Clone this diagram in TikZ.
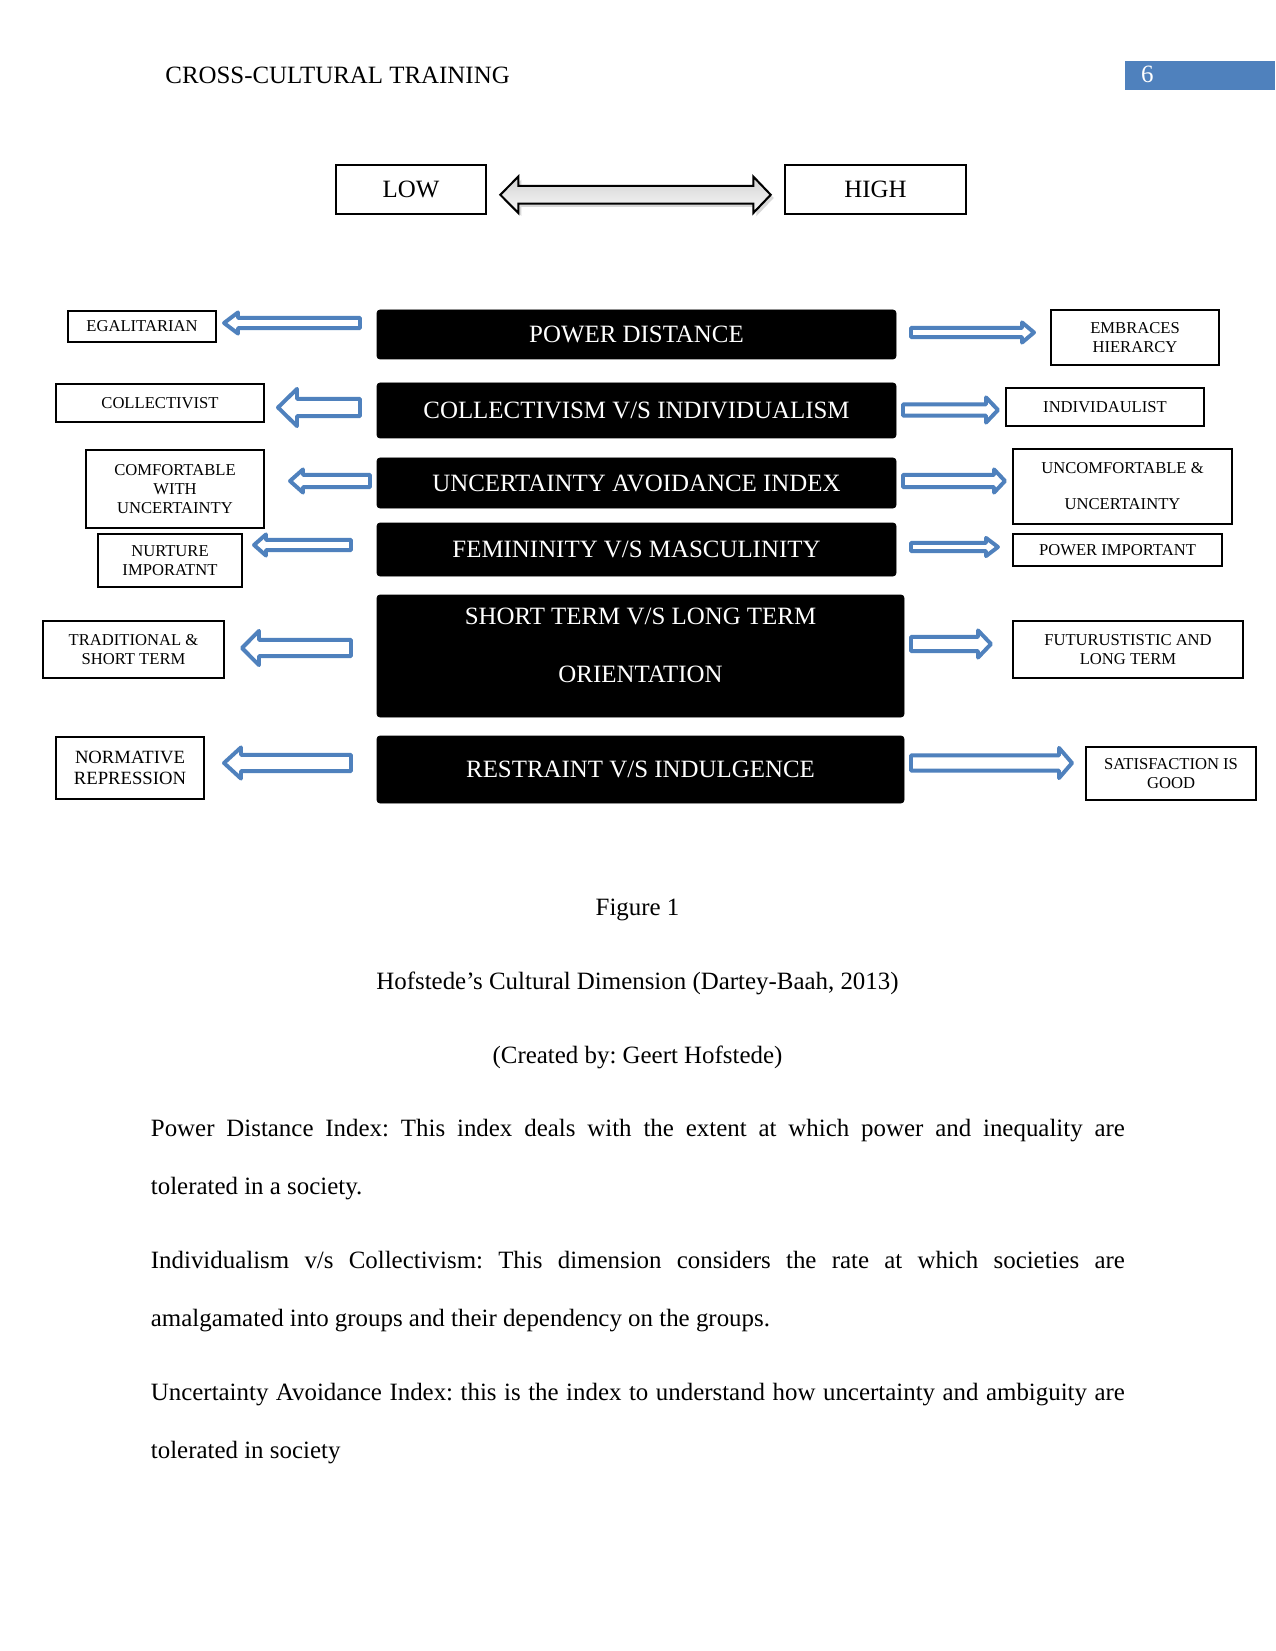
\documentclass[tikz,border=0pt]{standalone}
\usepackage{fontspec}
\setmainfont{Liberation Serif}
\usetikzlibrary{shadows}
\definecolor{wordblue}{HTML}{4F81BD}
\newcommand{\pxu}{0.4818pt}
\hyphenpenalty=10000
\frenchspacing

\begin{document}
\begin{tikzpicture}[x=\pxu,y=-\pxu,
  dimbox/.style={fill=black,draw=black,rounded corners=1.5pt,text=white,inner sep=0pt,
    align=center,font=\fontsize{12}{14}\selectfont},
  sidebox/.style={draw=black,line width=0.75pt,fill=white,inner sep=0pt,align=center,
    font=\fontsize{8}{9.3}\selectfont},
  scalebox/.style={draw=black,line width=0.75pt,inner sep=0pt,font=\fontsize{12}{14}\selectfont},
  blockarrow/.style={draw=wordblue,line width=1.9pt,line join=round,fill=white},
  bodytext/.style={inner sep=0pt,font=\fontsize{12}{14}\selectfont},
  para/.style={inner sep=0pt,text width={974*\pxu},align=justify,font=\fontsize{12}{28}\selectfont}]
  \useasboundingbox (0,0) rectangle (1275,1651);
  \fill[white] (0,0) rectangle (1275,1651);

  % header
  \node[bodytext,anchor=base west] (hdr) at (165,83.3) {CROSS-CULTURAL TRAINING};
  \node[fill=wordblue,inner sep=0pt,anchor=north west,minimum width={150*\pxu},minimum height={28.5*\pxu}] (pgbox) at (1125,61) {};
  \node[bodytext,anchor=base west,text=white] (pgno) at (1140.6,82.3) {6};

  % low / high scale
  \node[scalebox,minimum width={150*\pxu},minimum height={49*\pxu}] (low) at (411,189.5) {LOW};
  \node[scalebox,minimum width={181*\pxu},minimum height={49*\pxu}] (high) at (875.5,189.5) {HIGH};
  \draw[black,line width=1pt,top color=gray!35,bottom color=gray!5,
    drop shadow={shadow xshift=1.5pt,shadow yshift=-1.5pt,opacity=0.3}]
    (500.3,194.8) -- (518.3,176.6) -- (518.3,185.9) -- (753.3,185.9) -- (753.3,176.6)
    -- (770.7,194.8) -- (753.3,213) -- (753.3,203.7) -- (518.3,203.7) -- (518.3,213) -- cycle;

  % dimensions
  \node[dimbox,minimum width={519*\pxu},minimum height={49*\pxu}] (pd) at (636.5,334.5) {POWER DISTANCE};
  \node[dimbox,minimum width={519*\pxu},minimum height={55*\pxu}] (ci) at (636.5,410.5) {COLLECTIVISM V/S INDIVIDUALISM};
  \node[dimbox,minimum width={519*\pxu},minimum height={50*\pxu}] (uai) at (636.5,483) {UNCERTAINTY AVOIDANCE INDEX};
  \node[dimbox,minimum width={519*\pxu},minimum height={53*\pxu}] (mf) at (636.5,549.5) {FEMININITY V/S MASCULINITY};
  \node[dimbox,minimum width={527*\pxu},minimum height={122*\pxu}] (lto) at (640.5,656)
    {\raisebox{3.9pt}[\height][\depth]{\begin{tabular}{@{}c@{}}SHORT TERM V/S LONG TERM\\[14pt]ORIENTATION\end{tabular}}};
  \node[dimbox,minimum width={527*\pxu},minimum height={67*\pxu}] (ind) at (640.5,769.5) {RESTRAINT V/S INDULGENCE};

  % low side
  \node[sidebox,minimum width={148*\pxu},minimum height={31*\pxu}] (egal) at (142,326.5) {EGALITARIAN};
  \node[sidebox,minimum width={208*\pxu},minimum height={38*\pxu}] (coll) at (160,403) {COLLECTIVIST};
  \node[sidebox,minimum width={177.5*\pxu},minimum height={78*\pxu}] (comf) at (175,489) {COMFORTABLE\\WITH\\UNCERTAINTY};
  \node[sidebox,minimum width={144.5*\pxu},minimum height={53*\pxu}] (nurt) at (170,560.5) {NURTURE\\IMPORATNT};
  \node[sidebox,minimum width={181*\pxu},minimum height={57*\pxu}] (trad) at (133.5,649.5) {TRADITIONAL \&\\SHORT TERM};
  \node[sidebox,minimum width={148*\pxu},minimum height={62*\pxu},font=\fontsize{9}{10.5}\selectfont] (norm) at (130,768) {NORMATIVE\\REPRESSION};

  % high side
  \node[sidebox,minimum width={168*\pxu},minimum height={55*\pxu}] (embr) at (1135,337.5) {EMBRACES\\HIERARCY};
  \node[sidebox,minimum width={198*\pxu},minimum height={38*\pxu}] (indi) at (1105,407) {INDIVIDAULIST};
  \node[sidebox,minimum width={219*\pxu},minimum height={75*\pxu}] (unco) at (1122.5,486.5) {UNCOMFORTABLE \&\\[8pt]UNCERTAINTY};
  \node[sidebox,minimum width={209*\pxu},minimum height={32*\pxu}] (powi) at (1117.5,550) {POWER IMPORTANT};
  \node[sidebox,minimum width={230*\pxu},minimum height={57*\pxu}] (futu) at (1128,649.5) {FUTURUSTISTIC AND\\LONG TERM};
  \node[sidebox,minimum width={170*\pxu},minimum height={53*\pxu},
    drop shadow={shadow xshift=0.6pt,shadow yshift=-0.6pt,opacity=1,fill=black}] (sati) at (1171,773.5) {SATISFACTION IS\\GOOD};

  % blue block arrows: tail/back/tip/y/shaft/head
  \foreach \tl/\bk/\tp/\yy/\sh/\hd in {
      360/238/224/323/5.1/10.6, 911/1022/1034/332.5/4.6/10.1,
      360/297/278/407.5/8.6/18.6, 903/986/998/410/5.6/12.6,
      370/303/290/481/6.1/11.6, 903/994/1005/481/6.1/11.6,
      351/266/254/545/5.1/10.6, 911/986/998/547/4.1/9.1,
      351/259/242/648/8.1/17.1, 911/978/991/644/7.1/13.6,
      351/241/224/763/8.1/15.6, 911/1059/1072/763/7.6/15.1} {
    \draw[blockarrow] (\tl,\yy-\sh) -- (\bk,\yy-\sh) -- (\bk,\yy-\hd) -- (\tp,\yy)
      -- (\bk,\yy+\hd) -- (\bk,\yy+\sh) -- (\tl,\yy+\sh) -- cycle;
  }

  % caption and text
  \node[bodytext,anchor=base] (fig) at (637.5,915) {Figure 1};
  \node[bodytext,anchor=base] (title) at (637.5,989) {Hofstede’s Cultural Dimension (Dartey-Baah, 2013)};
  \node[bodytext,anchor=base] (credit) at (637.5,1063) {(Created by: Geert Hofstede)};
  \node[para,anchor=base west] (pdi) at (150.5,1136.7)
    {Power Distance Index: This index deals with the extent at which power and inequality are\linebreak tolerated in a society.};
  \node[para,anchor=base west] (idv) at (150.5,1268)
    {Individualism v/s Collectivism: This dimension considers the rate at which societies are\linebreak amalgamated into groups and their dependency on the groups.};
  \node[para,anchor=base west] (uaitext) at (150.5,1400)
    {Uncertainty Avoidance Index: this is the index to understand how uncertainty and ambiguity are\linebreak tolerated in society};
\end{tikzpicture}
\end{document}
